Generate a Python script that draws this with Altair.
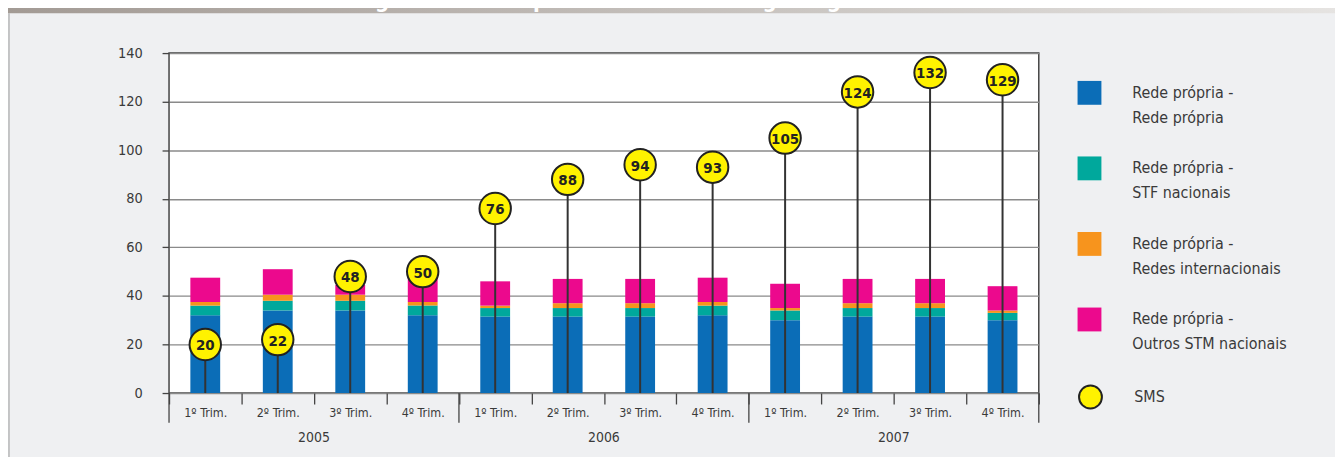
import altair as alt
import pandas as pd

# ---------------- data ----------------
years = ["2005", "2006", "2007"]
quarters = ["1º Trim.", "2º Trim.", "3º Trim.", "4º Trim."]
series_names = [
    "Rede própria -\nRede própria",
    "Rede própria -\nSTF nacionais",
    "Rede própria -\nRedes internacionais",
    "Rede própria -\nOutros STM nacionais",
]
series_colors = ["#0b6db7", "#00a89c", "#f7941d", "#ec098d"]
rede_propria = [32, 34, 34, 32, 31.5, 31.5, 31.5, 32, 30, 31.5, 31.5, 30]
stf_nacionais = [4, 4, 4, 4, 3.5, 3.5, 3.5, 4, 4, 3.5, 3.5, 3]
redes_internacionais = [1.5, 2.5, 2.5, 1.5, 1, 2, 2, 1.5, 1, 2, 2, 1]
outros_stm = [10, 10.5, 4, 10, 10, 10, 10, 10, 10, 10, 10, 10]
sms = [20, 22, 48, 50, 76, 88, 94, 93, 105, 124, 132, 129]
sms_name = "SMS"
title_text = "Número de chamadas e mensagens mensais por assinante – tráfego originado"

keys = [f"{y}|{q}" for y in years for q in quarters]

rows = []
for s_i, vals in enumerate([rede_propria, stf_nacionais, redes_internacionais, outros_stm]):
    for k, v in zip(keys, vals):
        rows.append({"key": k, "series": series_names[s_i], "value": v, "order": s_i})
bars_df = pd.DataFrame(rows)
sms_df = pd.DataFrame({"key": keys, "sms": sms, "name": sms_name})
year_mid_df = pd.DataFrame({"key": [f"{y}|{quarters[1]}" for y in years], "year": years})
year_end_df = pd.DataFrame({"key": [f"{y}|{quarters[3]}" for y in years]})
year_start_df = pd.DataFrame({"key": [keys[0]]})
title_df = pd.DataFrame({"t": [title_text]})

# ---------------- style ----------------
FONT = "DejaVu Sans Condensed, DejaVu Sans, sans-serif"
W, H = 875, 342

x_scale = alt.Scale(domain=keys, paddingInner=0, paddingOuter=0)
y_scale = alt.Scale(domain=[0, 140], nice=False)

x_axis = alt.Axis(
    title=None, labelExpr="split(datum.label, '|')[1]", labelAngle=0,
    tickBand="extent", tickSize=11, tickColor="#444", tickWidth=1.3,
    labelPadding=3, labelFontSize=12.5, labelFont=FONT, labelColor="#3a3a3a",
    domain=False, grid=False,
)
y_axis = alt.Axis(
    title=None, values=[0, 20, 40, 60, 80, 100, 120, 140], tickSize=7,
    tickColor="#444", tickWidth=1.3, labelPadding=20, labelFontSize=14.5,
    labelFont=FONT, labelColor="#3a3a3a", domain=False, grid=True,
    gridColor="#8a8a8a", gridWidth=1.4,
)

X = alt.X("key:N", scale=x_scale, axis=x_axis, sort=keys)
base = alt.Chart(bars_df)

bars = base.mark_bar(size=30).encode(
    x=X,
    y=alt.Y("value:Q", scale=y_scale, axis=y_axis, stack="zero"),
    color=alt.Color(
        "series:N",
        scale=alt.Scale(domain=series_names, range=series_colors),
        legend=alt.Legend(
            title=None, orient="none", legendX=914, legendY=28,
            symbolType="square", symbolSize=576, symbolStrokeWidth=0,
            symbolOpacity=1, labelExpr="split(datum.label, '\\n')",
            labelFontSize=16, labelFont=FONT, labelColor="#3a3a3a",
            rowPadding=31, labelOffset=31, padding=0, labelLimit=400,
        ),
    ),
    order=alt.Order("order:Q"),
)

sms_base = alt.Chart(sms_df)
stems = sms_base.mark_rule(color="#333", strokeWidth=2).encode(
    x=X,
    y=alt.Y("sms:Q", scale=y_scale, axis=y_axis),
    y2=alt.datum(0),
)
circles = sms_base.mark_circle(size=1000, stroke="#222", strokeWidth=2, opacity=1).encode(
    x=X,
    y=alt.Y("sms:Q", scale=y_scale, axis=y_axis),
    fill=alt.Fill(
        "name:N",
        scale=alt.Scale(domain=[sms_name], range=["#fff200"]),
        legend=alt.Legend(
            title=None, orient="none", legendX=914, legendY=333,
            symbolType="circle", symbolSize=530, symbolStrokeColor="#222",
            symbolStrokeWidth=2, symbolOpacity=1, labelFontSize=16,
            labelFont=FONT, labelColor="#3a3a3a", labelOffset=31, padding=0,
        ),
    ),
)
labels = sms_base.mark_text(fontSize=15, fontWeight="bold", font=FONT, color="#222",
                            baseline="middle", dy=1).encode(
    x=X,
    y=alt.Y("sms:Q", scale=y_scale, axis=y_axis),
    text="sms:Q",
)

# year separators and labels below the axis
year_rules_end = alt.Chart(year_end_df).mark_rule(color="#444", strokeWidth=1.3, clip=False).encode(
    x=alt.X("key:N", scale=x_scale, axis=x_axis, sort=keys, bandPosition=1),
    y=alt.value(H), y2=alt.value(H + 30),
)
year_rules_start = alt.Chart(year_start_df).mark_rule(color="#444", strokeWidth=1.3, clip=False).encode(
    x=alt.X("key:N", scale=x_scale, axis=x_axis, sort=keys, bandPosition=0),
    y=alt.value(H), y2=alt.value(H + 30),
)
year_text = alt.Chart(year_mid_df).mark_text(fontSize=14, font=FONT, color="#3a3a3a",
                                             baseline="middle", clip=False).encode(
    x=alt.X("key:N", scale=x_scale, axis=x_axis, sort=keys, bandPosition=1),
    y=alt.value(H + 45),
    text="year:N",
)

# header band (cut off at the top of the page, as in the source)
band = alt.Chart(title_df).mark_rect(
    clip=False,
    color=alt.LinearGradient(
        gradient="linear", x1=0, x2=1, y1=0, y2=0,
        stops=[alt.GradientStop(color="#a29a94", offset=0),
               alt.GradientStop(color="#e6e4e2", offset=1)],
    ),
).encode(x=alt.value(-170), x2=alt.value(1180), y=alt.value(-60), y2=alt.value(-40))
band_text = alt.Chart(title_df).mark_text(
    clip=False, align="left", baseline="alphabetic", fontSize=22, fontWeight="bold",
    font=FONT, color="white",
).encode(x=alt.value(-135), y=alt.value(-45), text="t:N")
left_line = alt.Chart(title_df).mark_rule(clip=False, color="#9a9a9a", strokeWidth=1).encode(
    x=alt.value(-161), y=alt.value(-40), y2=alt.value(H + 70)
)

chart = alt.layer(
    band, band_text, left_line, bars, stems, circles, labels,
    year_rules_start, year_rules_end, year_text,
).properties(
    width=W, height=H,
    padding={"left": 162, "top": 44, "right": 298, "bottom": 63},
    autosize=alt.AutoSizeParams(type="none"),
    background="#eff0f2",
).configure(
    style={"guide-label": {"lineHeight": 25}},
).configure_view(
    fill="white", stroke="#444", strokeWidth=1.5,
)

chart.save("out.html", embed_options={"renderer": "svg", "actions": False})
